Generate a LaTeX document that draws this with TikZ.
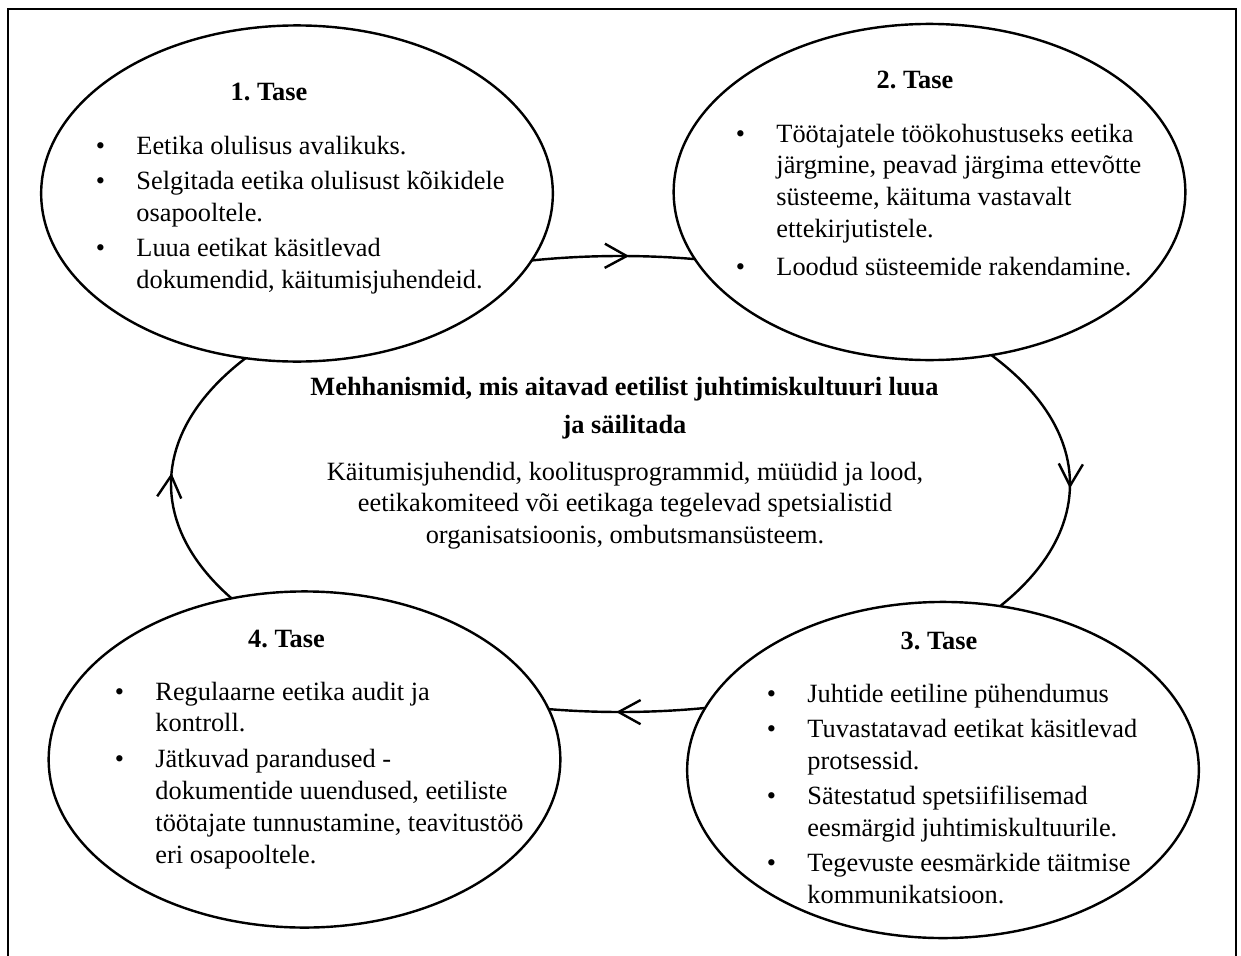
\documentclass[tikz,border=0pt]{standalone}
\usepackage{fontspec}
\setmainfont{Liberation Serif}
\usetikzlibrary{shapes.geometric,decorations.markings,arrows.meta}
\frenchspacing
\tikzset{
  tase/.style={ellipse, draw, fill=white, line width=1.1pt, inner sep=0pt,
    minimum width=8.19cm, minimum height=5.38cm},
  punktid/.style={inner sep=0pt, anchor=base west, font=\fontsize{12}{14.55}\selectfont},
  pealkiri/.style={inner sep=0pt, anchor=base, font=\fontsize{12}{14.55}\selectfont\bfseries},
  keskel/.style={inner sep=0pt, anchor=base, font=\fontsize{12}{14.55}\selectfont},
  ring/.style={line width=1.1pt, postaction={decorate}, decoration={markings,
    mark=at position 0.002 with {\arrow{Straight Barb[length=10pt,width=11pt]}},
    mark=at position 0.252 with {\arrow{Straight Barb[length=10pt,width=11pt]}},
    mark=at position 0.505 with {\arrow{Straight Barb[length=10pt,width=11pt]}},
    mark=at position 0.754 with {\arrow{Straight Barb[length=10pt,width=11pt]}}}}
}
\newcommand{\pk}{\makebox[0.65cm][l]{\textbullet}}
\begin{document}
\begin{tikzpicture}[x=0.016cm, y=-0.016cm]
  \def\bw{40.6}
  \useasboundingbox (0,0) rectangle (1241,956);
  \draw[line width=1.2pt] (8,956) -- (8,9) -- (1236,9) -- (1236,956);
  \draw[ring] (620.5,484) ellipse [x radius=449.5, y radius=228];
  \node[tase] (t1) at (297,193.5) {};
  \node[tase] (t2) at (929.5,192) {};
  \node[tase] (t3) at (943,770) {};
  \node[tase] (t4) at (304.5,759.5) {};
  \node[pealkiri] (p1) at (269,100) {1. Tase};
  \node[pealkiri] (p2) at (915,88) {2. Tase};
  \node[pealkiri] (p3) at (939,649) {3. Tase};
  \node[pealkiri] (p4) at (286.5,647) {4. Tase};
  \node[punktid] (l1) at ({136-\bw},154) {\begin{tabular}[t]{@{}l@{}l@{}}
    \pk & Eetika olulisus avalikuks.\\[1.5pt]
    \pk & Selgitada eetika olulisust kõikidele\\
        & osapooltele.\\[1.5pt]
    \pk & Luua eetikat käsitlevad\\
        & dokumendid, käitumisjuhendeid.
  \end{tabular}};
  \node[punktid] (l2) at ({776-\bw},142) {\begin{tabular}[t]{@{}l@{}l@{}}
    \pk & Töötajatele töökohustuseks eetika\\
        & järgmine, peavad järgima ettevõtte\\
        & süsteeme, käituma vastavalt\\
        & ettekirjutistele.\\[2.5pt]
    \pk & Loodud süsteemide rakendamine.
  \end{tabular}};
  \node[punktid] (l3) at ({807-\bw},702) {\begin{tabular}[t]{@{}l@{}l@{}}
    \pk & Juhtide eetiline pühendumus\\[1.5pt]
    \pk & Tuvastatavad eetikat käsitlevad\\
        & protsessid.\\[1.5pt]
    \pk & Sätestatud spetsiifilisemad\\
        & eesmärgid juhtimiskultuurile.\\[1.5pt]
    \pk & Tegevuste eesmärkide täitmise\\
        & kommunikatsioon.
  \end{tabular}};
  \node[punktid] (l4) at ({155-\bw},700) {\begin{tabular}[t]{@{}l@{}l@{}}
    \pk & Regulaarne eetika audit ja\\
        & kontroll.\\[1.5pt]
    \pk & Jätkuvad parandused -\\
        & dokumentide uuendused, eetiliste\\
        & töötajate tunnustamine, teavitustöö\\
        & eri osapooltele.
  \end{tabular}};
  \node[pealkiri] (mp) at (624.5,395) {\begin{tabular}[t]{@{}c@{}}
    Mehhanismid, mis aitavad eetilist juhtimiskultuuri luua\\[3pt]
    ja säilitada
  \end{tabular}};
  \node[keskel] (mt) at (625,480) {\begin{tabular}[t]{@{}c@{}}
    Käitumisjuhendid, koolitusprogrammid, müüdid ja lood,\\
    eetikakomiteed või eetikaga tegelevad spetsialistid\\
    organisatsioonis, ombutsmansüsteem.
  \end{tabular}};
\end{tikzpicture}
\end{document}
